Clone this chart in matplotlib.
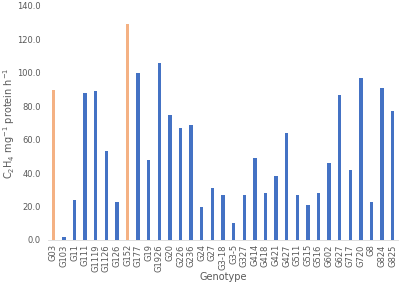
import numpy as np
import matplotlib.pyplot as plt

genotypes = ["G03", "G103", "G11", "G111", "G1119", "G1126", "G126", "G152",
             "G177", "G19", "G1926", "G20", "G226", "G236", "G24", "G27",
             "G3-18", "G3-5", "G327", "G414", "G418", "G421", "G427", "G511",
             "G515", "G516", "G602", "G627", "G717", "G720", "G8", "G824", "G825"]
activity = [90, 2, 24, 88, 89, 53, 23, 129,
            100, 48, 106, 75, 67, 69, 20, 31,
            27, 10, 27, 49, 28, 38, 64, 27,
            21, 28, 46, 87, 42, 97, 23, 91, 77]
highlight = ["G03", "G152"]

blue = "#4472C4"
orange = "#F4B183"
grey = "#595959"

colors = [orange if g in highlight else blue for g in genotypes]
x = np.arange(len(genotypes))

fig = plt.figure(figsize=(4.0, 2.85), dpi=100)
ax = fig.add_axes([0.12, 0.158, 0.875, 0.821])

ax.bar(x, activity, width=0.32, color=colors, zorder=2)

ax.set_ylim(0, 140)
ax.set_yticks(np.arange(0, 141, 20))
ax.set_yticklabels([f"{v:.1f}" for v in np.arange(0, 141, 20)])
ax.set_xlim(-0.5, len(genotypes) - 0.5)
ax.set_xticks(x)
ax.set_xticklabels(genotypes, rotation=90)

ax.tick_params(axis="both", length=0, labelsize=6, labelcolor=grey, pad=3)
ax.tick_params(axis="y", pad=5)
for s in ["top", "right", "left"]:
    ax.spines[s].set_visible(False)
ax.spines["bottom"].set_color("#D9D9D9")
ax.spines["bottom"].set_linewidth(0.6)

ax.set_ylabel("C$_2$H$_4$ mg$^{-1}$ protein h$^{-1}$", fontsize=7, color=grey)
ax.yaxis.set_label_coords(-0.088, 0.5)
ax.set_xlabel("Genotype", fontsize=7, color=grey)
ax.xaxis.set_label_coords(0.5, -0.135)

fig.savefig("out.png", dpi=100)
